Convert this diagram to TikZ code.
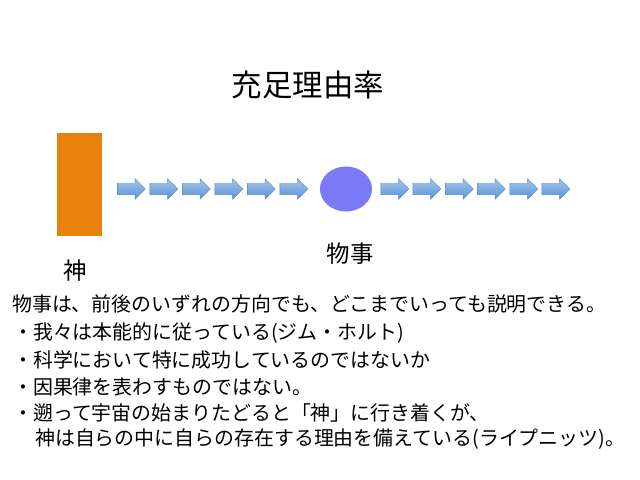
\documentclass[tikz,border=0pt]{standalone}
\usepackage{fontspec}
\setmainfont{Noto Sans CJK JP}
\usepackage{tikz}
\usetikzlibrary{shapes.arrows,shapes.geometric}
\definecolor{godorange}{RGB}{232,130,12}
\definecolor{thingblue}{RGB}{122,122,246}
\definecolor{arrowtop}{RGB}{160,198,238}
\definecolor{arrowbot}{RGB}{92,146,212}
\definecolor{arrowline}{RGB}{88,136,196}

\begin{document}
\begin{tikzpicture}[%
      x=0.03cm, y=-0.03cm,
      flow/.style={single arrow, draw=arrowline, line width=0.3pt,
        top color=arrowtop, bottom color=arrowbot,
        inner xsep=0pt, inner ysep=0.165cm,
        minimum height=0.84cm,
        single arrow head extend=0.135cm, single arrow head indent=0pt},
      body/.style={anchor=west, inner sep=0pt, font=\fontsize{17pt}{20pt}\selectfont},
      ]
      \useasboundingbox (0,0) rectangle (640,480);

      \node (title) at (308,85) {\fontsize{26pt}{30pt}\selectfont 充足理由率};

      \node [fill=godorange, minimum width=1.35cm, minimum height=3.09cm, inner sep=0pt] (god) at (79.5,184.5) {};
      \node [ellipse, fill=thingblue, minimum width=1.56cm, minimum height=1.35cm, inner sep=0pt] (thing) at (346,189) {};

      \node [flow] (a1) at (128.5,189) {};
      \node [flow] (a2) at (161,189) {};
      \node [flow] (a3) at (193.5,189) {};
      \node [flow] (a4) at (226,189) {};
      \node [flow] (a5) at (258.5,189) {};
      \node [flow] (a6) at (291,189) {};

      \node [flow] (b1) at (392,189) {};
      \node [flow] (b2) at (424,189) {};
      \node [flow] (b3) at (456.5,189) {};
      \node [flow] (b4) at (488.5,189) {};
      \node [flow] (b5) at (521,189) {};
      \node [flow] (b6) at (553,189) {};

      \node (godlabel) at (75,271) {\fontsize{20pt}{24pt}\selectfont 神};
      \node (thinglabel) at (350,254) {\fontsize{20pt}{24pt}\selectfont 物事};

      \node [body] (l1) at (12,304) {物事は、前後のいずれの方向でも、どこまでいっても説明できる。};
      \node [body] (l2) at (13,333) {・我々は本能的に従っている(ジム・ホルト)};
      \node [body] (l3) at (13,360) {・科学において特に成功しているのではないか};
      \node [body] (l4) at (13,387) {・因果律を表わすものではない。};
      \node [body] (l5) at (13,413) {・遡って宇宙の始まりたどると「神」に行き着くが、};
      \node [body] (l6) at (35,439) {神は自らの中に自らの存在する理由を備えている(ライプニッツ)。};
      \end{tikzpicture}
\end{document}
